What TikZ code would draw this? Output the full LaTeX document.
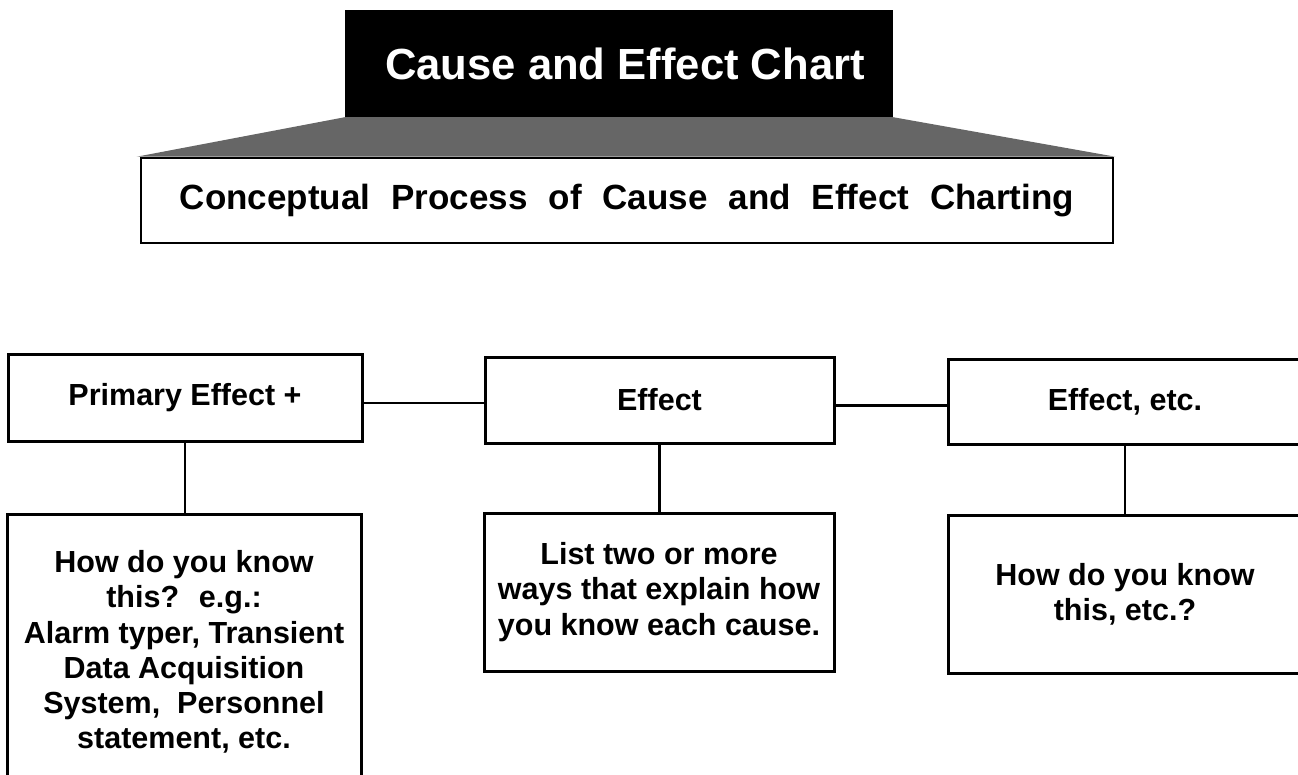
\documentclass[tikz,border=0pt]{standalone}
\usepackage{fontspec}
\setmainfont{Liberation Sans}
\usetikzlibrary{backgrounds}
\begin{document}
\begin{tikzpicture}[x=1pt,y=-1pt,
  box/.style={draw=black, line width=3pt, fill=white, rectangle, inner sep=0pt, align=center,
    font=\fontsize{30.5}{35.3}\selectfont\bfseries},
  link/.style={line width=2.4pt}]
\useasboundingbox (0,0) rectangle (1298,774);
\clip (0,0) rectangle (1298,774);

% header
\node[fill=black, text=white, minimum width=548pt, minimum height=107pt, inner sep=0pt,
  font=\fontsize{43.6}{50}\selectfont\bfseries] (title) at (619,63.5) {\hspace*{12pt}Cause and Effect Chart};
\node[box, line width=2.6pt, minimum width=972pt, minimum height=85pt,
  font=\fontsize{35}{40}\selectfont\bfseries] (sub) at (627,200.5)
  {\spaceskip=21pt\relax Conceptual Process of Cause and Effect Charting};
\begin{pgfonlayer}{background}
\fill[black!60] (title.south west) -- (title.south east) -- ([xshift=1pt]sub.north east) -- ([xshift=-3pt]sub.north west) -- cycle;
\end{pgfonlayer}

% effect row
\node[box, minimum width=354pt, minimum height=87pt] (pe) at (185,397.5) {Primary Effect +};
\node[box, minimum width=349pt, minimum height=86pt] (ef) at (659.5,400) {Effect};
\node[box, minimum width=354pt, minimum height=85pt] (ee) at (1125,401.5) {Effect, etc.};

% evidence row
\node[box, minimum width=354pt, minimum height=276pt] (k1) at (184,652)
  {How do you know\\this?~ e.g.:\\Alarm typer, Transient\\Data Acquisition\\System,~ Personnel\\statement, etc.};
\node[box, minimum width=350pt, minimum height=158pt] (k2) at (659,592)
  {List two or more\\ways that explain how\\you know each cause.};
\node[box, minimum width=354pt, minimum height=158pt] (k3) at (1125,594)
  {How do you know\\this, etc.?};

% connectors
\draw[link] ([yshift=-5.5pt]pe.east) -- ([yshift=-5.5pt]pe.east -| ef.west);
\draw[link] ([yshift=-5.5pt]ef.east) -- ([yshift=-5.5pt]ef.east -| ee.west);
\draw[link] (pe.south) -- (pe.south |- k1.north);
\draw[link] (ef.south) -- (ef.south |- k2.north);
\draw[link] (ee.south) -- (ee.south |- k3.north);
\end{tikzpicture}
\end{document}
